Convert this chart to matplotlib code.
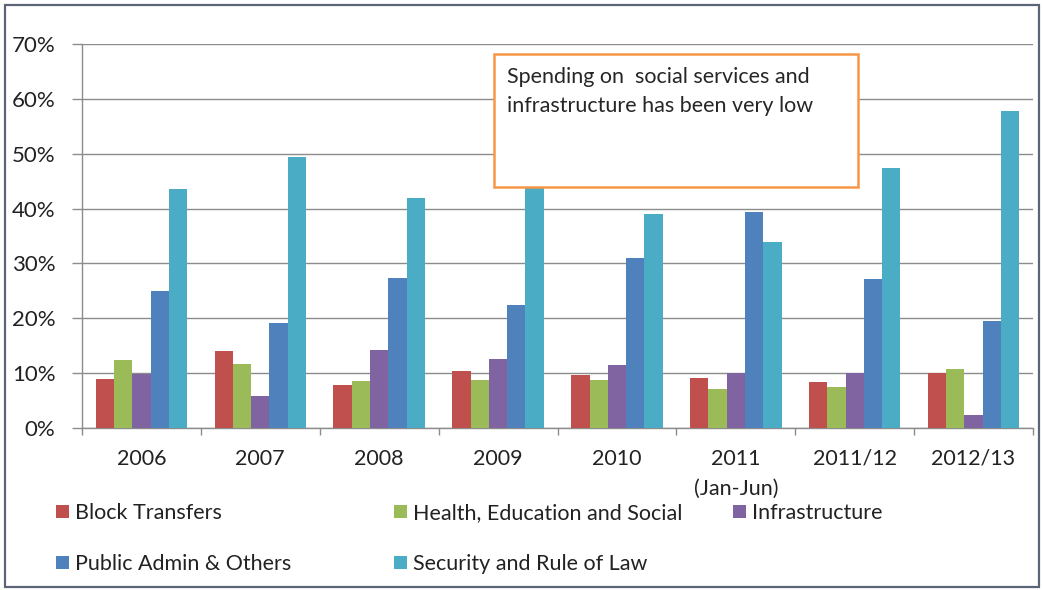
import matplotlib
matplotlib.use("Agg")
import matplotlib.pyplot as plt
import numpy as np
from matplotlib.patches import Rectangle, Patch

plt.rcParams['font.family'] = ['Lato', 'DejaVu Sans']

categories = ['2006', '2007', '2008', '2009', '2010', '2011\n(Jan-Jun)', '2011/12', '2012/13']
series_names = ['Block Transfers', 'Health, Education and Social', 'Infrastructure',
                'Public Admin & Others', 'Security and Rule of Law']
block_transfers = [8.9, 14.0, 7.8, 10.3, 9.7, 9.1, 8.3, 10.0]
health_education_social = [12.4, 11.6, 8.6, 8.8, 8.8, 7.2, 7.4, 10.7]
infrastructure = [9.9, 5.9, 14.3, 12.6, 11.4, 10.1, 10.0, 2.3]
public_admin = [24.9, 19.2, 27.4, 22.4, 31.0, 39.4, 27.1, 19.5]
security_rule_of_law = [43.6, 49.4, 42.0, 45.0, 39.1, 33.9, 47.4, 57.7]
yticks = [0, 10, 20, 30, 40, 50, 60, 70]
note_lines = ['Spending on  social services and', 'infrastructure has been very low']

series = [block_transfers, health_education_social, infrastructure, public_admin, security_rule_of_law]
colors = ['#C0504D', '#9BBB59', '#8064A2', '#4F81BD', '#4BACC6']

W, H = 1042, 590
fig = plt.figure(figsize=(W / 100, H / 100), dpi=100)
fig.patch.set_facecolor('white')

def fx(px):
    return px / W

def fy(py):
    return 1 - py / H

ax = fig.add_axes([fx(82), fy(428), fx(1033) - fx(82), fy(44) - fy(428)])

n = len(series)
x = np.arange(len(categories))
gap = 1.5
bw = 1.0 / (n + gap)
for i, (vals, c) in enumerate(zip(series, colors)):
    offs = (i - (n - 1) / 2) * bw
    ax.bar(x + offs, vals, width=bw, color=c, edgecolor='none', zorder=3)

ax.set_xlim(-0.5, len(categories) - 0.5)
ax.set_ylim(0, 70)
ax.set_yticks(yticks)
ax.set_yticklabels([f'{v}%' for v in yticks])
ax.yaxis.grid(True, color='#8c8c8c', linewidth=1.0, zorder=0)
ax.set_axisbelow(True)

ax.set_xticks(x)
ax.set_xticklabels(categories, linespacing=1.6)
ax.set_xticks(np.arange(len(categories) + 1) - 0.5, minor=True)
ax.tick_params(axis='x', which='major', length=0, pad=15, labelsize=15.5, colors='#222222')
ax.tick_params(axis='x', which='minor', length=5, width=1, color='#8c8c8c', direction='out')
ax.tick_params(axis='y', length=7, width=1, color='#8c8c8c', pad=12, labelsize=16,
               labelcolor='#222222')

for s in ['top', 'right']:
    ax.spines[s].set_visible(False)
for s in ['left', 'bottom']:
    ax.spines[s].set_color('#8c8c8c')
    ax.spines[s].set_linewidth(1.0)

# note box
box = Rectangle((fx(494), fy(187)), fx(858) - fx(494), fy(54) - fy(187),
                transform=fig.transFigure, facecolor='white', edgecolor='#F79646',
                linewidth=1.8, zorder=10)
fig.patches.append(box)
fig.text(fx(507), fy(77), note_lines[0], fontsize=15.5, color='#262626', va='center', ha='left', zorder=11)
fig.text(fx(507), fy(106), note_lines[1], fontsize=15.5, color='#262626', va='center', ha='left', zorder=11)

# legend, three columns
handles = [Patch(facecolor=c, edgecolor='none') for c in colors]
columns = [([0, 3], 56), ([1, 4], 394), ([2], 733)]
for idx, xpos in columns:
    leg = fig.legend([handles[i] for i in idx], [series_names[i] for i in idx],
                     loc='upper left', bbox_to_anchor=(fx(xpos), fy(503)),
                     frameon=False, fontsize=15.5, handlelength=0.6, handleheight=0.6,
                     handletextpad=0.3, labelspacing=1.45, borderpad=0, borderaxespad=0)
    for t in leg.get_texts():
        t.set_color('#222222')

# outer border
fig.patches.append(Rectangle((fx(5), fy(587)), fx(1039) - fx(5), fy(5) - fy(587),
                             transform=fig.transFigure, facecolor='none',
                             edgecolor='#5b6576', linewidth=1.6, zorder=20))

fig.savefig('out.png', dpi=100)
